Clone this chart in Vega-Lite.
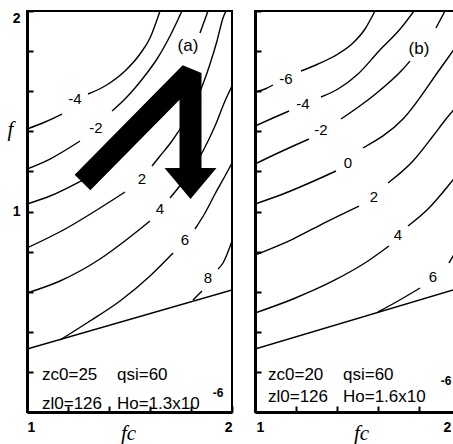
{
  "$schema": "https://vega.github.io/schema/vega-lite/v6.json",
  "background": "white",
  "padding": {"left": 6, "top": 9, "right": 0, "bottom": 0},
  "spacing": 19,
  "config": {
    "view": {"stroke": "black", "strokeWidth": 2},
    "axis": {
      "grid": false,
      "domainColor": "black",
      "domainWidth": 3,
      "tickColor": "black",
      "tickWidth": 2,
      "tickSize": -6,
      "labelFont": "Liberation Sans",
      "labelFontWeight": "bold",
      "labelFontSize": 14,
      "labelColor": "black",
      "titleFont": "Liberation Serif",
      "titleFontStyle": "italic",
      "titleFontWeight": "normal",
      "titleFontSize": 21,
      "titleColor": "black"
    }
  },
  "datasets": {
    "lines": [
      {"panel": "a", "seg": "m4-1", "x": 1, "y": 1.4115},
      {"panel": "a", "seg": "m4-1", "x": 1.0878, "y": 1.4464},
      {"panel": "a", "seg": "m4-1", "x": 1.1707, "y": 1.4863},
      {"panel": "a", "seg": "m4-2", "x": 1.2976, "y": 1.586},
      {"panel": "a", "seg": "m4-2", "x": 1.3805, "y": 1.6259},
      {"panel": "a", "seg": "m4-2", "x": 1.478, "y": 1.7007},
      {"panel": "a", "seg": "m4-2", "x": 1.5512, "y": 1.7855},
      {"panel": "a", "seg": "m4-2", "x": 1.6, "y": 1.8653},
      {"panel": "a", "seg": "m4-2", "x": 1.6488, "y": 2.0},
      {"panel": "a", "seg": "m2-1", "x": 1, "y": 1.212},
      {"panel": "a", "seg": "m2-1", "x": 1.1122, "y": 1.2618},
      {"panel": "a", "seg": "m2-1", "x": 1.2585, "y": 1.3516},
      {"panel": "a", "seg": "m2-2", "x": 1.4146, "y": 1.5012},
      {"panel": "a", "seg": "m2-2", "x": 1.478, "y": 1.5611},
      {"panel": "a", "seg": "m2-2", "x": 1.5268, "y": 1.616},
      {"panel": "a", "seg": "m2-2", "x": 1.5854, "y": 1.6908},
      {"panel": "a", "seg": "m2-2", "x": 1.6341, "y": 1.7606},
      {"panel": "a", "seg": "m2-2", "x": 1.6976, "y": 1.8753},
      {"panel": "a", "seg": "m2-2", "x": 1.7561, "y": 2.0},
      {"panel": "a", "seg": "0-1", "x": 1, "y": 1.0374},
      {"panel": "a", "seg": "0-1", "x": 1.1122, "y": 1.0773},
      {"panel": "a", "seg": "0-1", "x": 1.2439, "y": 1.1421},
      {"panel": "a", "seg": "0-1", "x": 1.4049, "y": 1.2369},
      {"panel": "a", "seg": "0-1", "x": 1.5512, "y": 1.3766},
      {"panel": "a", "seg": "0-1", "x": 1.6732, "y": 1.5262},
      {"panel": "a", "seg": "0-1", "x": 1.7707, "y": 1.6908},
      {"panel": "a", "seg": "0-2", "x": 1.8439, "y": 1.8903},
      {"panel": "a", "seg": "0-2", "x": 1.8829, "y": 2.0},
      {"panel": "a", "seg": "2-1", "x": 1, "y": 0.818},
      {"panel": "a", "seg": "2-1", "x": 1.1951, "y": 0.9177},
      {"panel": "a", "seg": "2-1", "x": 1.3561, "y": 1.0175},
      {"panel": "a", "seg": "2-1", "x": 1.478, "y": 1.0973},
      {"panel": "a", "seg": "2-2", "x": 1.6098, "y": 1.2269},
      {"panel": "a", "seg": "2-2", "x": 1.6488, "y": 1.2768},
      {"panel": "a", "seg": "2-2", "x": 1.7073, "y": 1.3516},
      {"panel": "a", "seg": "2-2", "x": 1.7707, "y": 1.4514},
      {"panel": "a", "seg": "2-2", "x": 1.8195, "y": 1.5411},
      {"panel": "a", "seg": "2-2", "x": 1.8585, "y": 1.6359},
      {"panel": "a", "seg": "2-2", "x": 1.8927, "y": 1.7357},
      {"panel": "a", "seg": "2-2", "x": 1.9268, "y": 1.8504},
      {"panel": "a", "seg": "2-2", "x": 1.9561, "y": 1.9651},
      {"panel": "a", "seg": "2-2", "x": 1.9707, "y": 2.0},
      {"panel": "a", "seg": "4-1", "x": 1, "y": 0.5935},
      {"panel": "a", "seg": "4-1", "x": 1.161, "y": 0.6534},
      {"panel": "a", "seg": "4-1", "x": 1.3561, "y": 0.7631},
      {"panel": "a", "seg": "4-1", "x": 1.5024, "y": 0.8728},
      {"panel": "a", "seg": "4-1", "x": 1.6, "y": 0.9526},
      {"panel": "a", "seg": "4-2", "x": 1.6976, "y": 1.0673},
      {"panel": "a", "seg": "4-2", "x": 1.7707, "y": 1.1621},
      {"panel": "a", "seg": "4-2", "x": 1.8585, "y": 1.3017},
      {"panel": "a", "seg": "4-2", "x": 1.9171, "y": 1.4264},
      {"panel": "a", "seg": "4-2", "x": 1.9659, "y": 1.5511},
      {"panel": "a", "seg": "4-2", "x": 2.0, "y": 1.6259},
      {"panel": "a", "seg": "6-1", "x": 1.161, "y": 0.3591},
      {"panel": "a", "seg": "6-1", "x": 1.3073, "y": 0.4539},
      {"panel": "a", "seg": "6-1", "x": 1.4537, "y": 0.5536},
      {"panel": "a", "seg": "6-1", "x": 1.6, "y": 0.6783},
      {"panel": "a", "seg": "6-1", "x": 1.7122, "y": 0.793},
      {"panel": "a", "seg": "6-2", "x": 1.8195, "y": 0.9127},
      {"panel": "a", "seg": "6-2", "x": 1.8683, "y": 0.9925},
      {"panel": "a", "seg": "6-2", "x": 1.9171, "y": 1.0873},
      {"panel": "a", "seg": "6-2", "x": 1.9659, "y": 1.1771},
      {"panel": "a", "seg": "6-2", "x": 2.0, "y": 1.2419},
      {"panel": "a", "seg": "8-1", "x": 1.8098, "y": 0.5586},
      {"panel": "a", "seg": "8-1", "x": 1.8537, "y": 0.6035},
      {"panel": "a", "seg": "8-2", "x": 1.9317, "y": 0.7132},
      {"panel": "a", "seg": "8-2", "x": 1.9561, "y": 0.7431},
      {"panel": "a", "seg": "8-2", "x": 2.0, "y": 0.8529},
      {"panel": "a", "seg": "bd", "x": 1, "y": 0.3142},
      {"panel": "a", "seg": "bd", "x": 2, "y": 0.6085},
      {"panel": "b", "seg": "m6-1", "x": 1, "y": 1.596},
      {"panel": "b", "seg": "m6-1", "x": 1.0488, "y": 1.611},
      {"panel": "b", "seg": "m6-1", "x": 1.0878, "y": 1.6309},
      {"panel": "b", "seg": "m6-2", "x": 1.2244, "y": 1.7007},
      {"panel": "b", "seg": "m6-2", "x": 1.3073, "y": 1.7357},
      {"panel": "b", "seg": "m6-2", "x": 1.4049, "y": 1.7855},
      {"panel": "b", "seg": "m6-2", "x": 1.478, "y": 1.8404},
      {"panel": "b", "seg": "m6-2", "x": 1.5366, "y": 1.9102},
      {"panel": "b", "seg": "m6-2", "x": 1.5854, "y": 2.0},
      {"panel": "b", "seg": "m4-1", "x": 1, "y": 1.4264},
      {"panel": "b", "seg": "m4-1", "x": 1.0878, "y": 1.4663},
      {"panel": "b", "seg": "m4-1", "x": 1.1659, "y": 1.5012},
      {"panel": "b", "seg": "m4-2", "x": 1.322, "y": 1.5711},
      {"panel": "b", "seg": "m4-2", "x": 1.4049, "y": 1.611},
      {"panel": "b", "seg": "m4-2", "x": 1.5024, "y": 1.6858},
      {"panel": "b", "seg": "m4-2", "x": 1.6049, "y": 1.8005},
      {"panel": "b", "seg": "m4-2", "x": 1.7122, "y": 1.9152},
      {"panel": "b", "seg": "m4-2", "x": 1.7756, "y": 2.0},
      {"panel": "b", "seg": "m2-1", "x": 1, "y": 1.2369},
      {"panel": "b", "seg": "m2-1", "x": 1.1122, "y": 1.2918},
      {"panel": "b", "seg": "m2-1", "x": 1.2634, "y": 1.3616},
      {"panel": "b", "seg": "m2-2", "x": 1.4195, "y": 1.4613},
      {"panel": "b", "seg": "m2-2", "x": 1.5756, "y": 1.5761},
      {"panel": "b", "seg": "m2-2", "x": 1.722, "y": 1.7107},
      {"panel": "b", "seg": "m2-2", "x": 1.7561, "y": 1.7506},
      {"panel": "b", "seg": "m2-3", "x": 1.8829, "y": 1.9152},
      {"panel": "b", "seg": "m2-3", "x": 1.9268, "y": 2.0},
      {"panel": "b", "seg": "0-1", "x": 1, "y": 1.0374},
      {"panel": "b", "seg": "0-1", "x": 1.1366, "y": 1.0873},
      {"panel": "b", "seg": "0-1", "x": 1.3951, "y": 1.202},
      {"panel": "b", "seg": "0-2", "x": 1.5268, "y": 1.3167},
      {"panel": "b", "seg": "0-2", "x": 1.722, "y": 1.4613},
      {"panel": "b", "seg": "0-2", "x": 1.9024, "y": 1.7107},
      {"panel": "b", "seg": "0-2", "x": 1.9756, "y": 1.8155},
      {"panel": "b", "seg": "0-2", "x": 2.0, "y": 1.8504},
      {"panel": "b", "seg": "2-1", "x": 1, "y": 0.783},
      {"panel": "b", "seg": "2-1", "x": 1.1854, "y": 0.8628},
      {"panel": "b", "seg": "2-1", "x": 1.3463, "y": 0.9476},
      {"panel": "b", "seg": "2-1", "x": 1.5073, "y": 1.0274},
      {"panel": "b", "seg": "2-2", "x": 1.6488, "y": 1.1421},
      {"panel": "b", "seg": "2-2", "x": 1.7707, "y": 1.2519},
      {"panel": "b", "seg": "2-2", "x": 1.8683, "y": 1.3766},
      {"panel": "b", "seg": "2-2", "x": 1.9317, "y": 1.4613},
      {"panel": "b", "seg": "2-2", "x": 1.9756, "y": 1.5162},
      {"panel": "b", "seg": "2-2", "x": 2.0, "y": 1.5511},
      {"panel": "b", "seg": "4-1", "x": 1, "y": 0.4938},
      {"panel": "b", "seg": "4-1", "x": 1.1854, "y": 0.5636},
      {"panel": "b", "seg": "4-1", "x": 1.3805, "y": 0.6534},
      {"panel": "b", "seg": "4-1", "x": 1.5512, "y": 0.7531},
      {"panel": "b", "seg": "4-1", "x": 1.6537, "y": 0.8279},
      {"panel": "b", "seg": "4-2", "x": 1.7463, "y": 0.9277},
      {"panel": "b", "seg": "4-2", "x": 1.8439, "y": 1.0125},
      {"panel": "b", "seg": "4-2", "x": 1.9415, "y": 1.1272},
      {"panel": "b", "seg": "4-2", "x": 2.0, "y": 1.202},
      {"panel": "b", "seg": "6-1", "x": 1.6, "y": 0.4988},
      {"panel": "b", "seg": "6-1", "x": 1.6976, "y": 0.5536},
      {"panel": "b", "seg": "6-1", "x": 1.8049, "y": 0.6185},
      {"panel": "b", "seg": "6-2", "x": 1.9463, "y": 0.7431},
      {"panel": "b", "seg": "6-2", "x": 1.9805, "y": 0.803},
      {"panel": "b", "seg": "6-2", "x": 2.0, "y": 0.8379},
      {"panel": "b", "seg": "bd", "x": 1, "y": 0.3142},
      {"panel": "b", "seg": "bd", "x": 2, "y": 0.6185}
    ],
    "labels": [
      {"panel": "a", "text": "-4", "x": 1.2341, "y": 1.5611},
      {"panel": "a", "text": "-2", "x": 1.3366, "y": 1.4165},
      {"panel": "a", "text": "2", "x": 1.561, "y": 1.1621},
      {"panel": "a", "text": "4", "x": 1.6488, "y": 1.0125},
      {"panel": "a", "text": "6", "x": 1.7707, "y": 0.8579},
      {"panel": "a", "text": "8", "x": 1.8829, "y": 0.6683},
      {"panel": "b", "text": "-6", "x": 1.1512, "y": 1.6608},
      {"panel": "b", "text": "-4", "x": 1.2341, "y": 1.5362},
      {"panel": "b", "text": "-2", "x": 1.322, "y": 1.4065},
      {"panel": "b", "text": "0", "x": 1.4537, "y": 1.2419},
      {"panel": "b", "text": "2", "x": 1.5805, "y": 1.0723},
      {"panel": "b", "text": "4", "x": 1.6976, "y": 0.8828},
      {"panel": "b", "text": "6", "x": 1.8683, "y": 0.6733}
    ],
    "tags": [
      {"panel": "a", "text": "(a)", "x": 1.7854, "y": 1.8254},
      {"panel": "b", "text": "(b)", "x": 1.8, "y": 1.8105}
    ],
    "params": [
      {"panel": "a", "text": "zc0=25", "x": 1.0732, "y": 0.1845},
      {"panel": "a", "text": "qsi=60", "x": 1.439, "y": 0.1845},
      {"panel": "a", "text": "zl0=126", "x": 1.0732, "y": 0.0399},
      {"panel": "a", "text": "Ho=1.3x10", "x": 1.439, "y": 0.0399},
      {"panel": "b", "text": "zc0=20", "x": 1.0634, "y": 0.1845},
      {"panel": "b", "text": "qsi=60", "x": 1.4293, "y": 0.1845},
      {"panel": "b", "text": "zl0=126", "x": 1.0634, "y": 0.0748},
      {"panel": "b", "text": "Ho=1.6x10", "x": 1.4293, "y": 0.0748}
    ],
    "sups": [
      {"panel": "a", "text": "-6", "x": 1.9318, "y": 0.0948},
      {"panel": "b", "text": "-6", "x": 1.9318, "y": 0.1546}
    ],
    "shaft": [
      {"k": 1, "x": 1.2707, "y": 1.1446},
      {"k": 2, "x": 1.7976, "y": 1.6908},
      {"k": 3, "x": 1.7976, "y": 1.217}
    ],
    "head": [
      {"x": 1.7976, "y": 1.1397}
    ]
  },
  "hconcat": [
    {
      "width": 205,
      "height": 401,
      "encoding": {
        "x": {"field": "x", "type": "quantitative", "scale": {"domain": [1, 2], "nice": false, "zero": false},
          "axis": {"values": [1, 1.2, 1.4, 1.6, 1.8, 2], "labelExpr": "datum.value == 1 ? '1' : datum.value == 2 ? '2' : ''", "labelFlush": true, "labelPadding": 14, "title": "fc", "titleX": 101, "titleY": 21, "titleBaseline": "middle", "titleAlign": "center"}},
        "y": {"field": "y", "type": "quantitative", "scale": {"domain": [0, 2], "nice": false, "zero": false},
          "axis": {"values": [0, 0.2, 0.4, 0.6, 0.8, 1, 1.2, 1.4, 1.6, 1.8, 2], "labelExpr": "datum.value == 1 ? '1' : datum.value == 2 ? '2' : ''", "labelFlush": true, "labelPadding": 13, "title": "f", "titleAngle": 0, "titleX": -17, "titleY": 118, "titleBaseline": "middle", "titleAlign": "center"}}
      },
      "layer": [
        {
          "data": {"name": "lines"},
          "transform": [{"filter": {"field": "panel", "equal": "a"}}],
          "mark": {"type": "line", "color": "black", "strokeWidth": 1.4, "interpolate": "monotone", "clip": true},
          "encoding": {"detail": {"field": "seg"}}
        },
        {
          "data": {"name": "shaft"},
          "mark": {"type": "line", "color": "black", "strokeWidth": 22, "strokeCap": "butt", "strokeJoin": "bevel"},
          "encoding": {"order": {"field": "k", "type": "quantitative"}}
        },
        {
          "data": {"name": "head"},
          "mark": {"type": "point", "shape": "M-1,-0.6L1,-0.6L0,0.6Z", "size": 2704, "filled": true, "color": "black", "opacity": 1, "strokeWidth": 0}
        },
        {
          "data": {"name": "labels"},
          "transform": [{"filter": {"field": "panel", "equal": "a"}}],
          "mark": {"type": "text", "font": "Liberation Sans", "fontSize": 15, "color": "black", "align": "center", "baseline": "middle"},
          "encoding": {"text": {"field": "text"}}
        },
        {
          "data": {"name": "tags"},
          "transform": [{"filter": {"field": "panel", "equal": "a"}}],
          "mark": {"type": "text", "font": "Liberation Sans", "fontSize": 17, "color": "black", "align": "center", "baseline": "middle"},
          "encoding": {"text": {"field": "text"}}
        },
        {
          "data": {"name": "params"},
          "transform": [{"filter": {"field": "panel", "equal": "a"}}],
          "mark": {"type": "text", "font": "Liberation Sans", "fontSize": 17, "color": "black", "align": "left", "baseline": "middle"},
          "encoding": {"text": {"field": "text"}}
        },
        {
          "data": {"name": "sups"},
          "transform": [{"filter": {"field": "panel", "equal": "a"}}],
          "mark": {"type": "text", "font": "Liberation Sans", "fontSize": 12, "fontWeight": "bold", "color": "black", "align": "center", "baseline": "middle"},
          "encoding": {"text": {"field": "text"}}
        }
      ]
    },
    {
      "width": 205,
      "height": 401,
      "encoding": {
        "x": {"field": "x", "type": "quantitative", "scale": {"domain": [1, 2], "nice": false, "zero": false},
          "axis": {"values": [1, 1.2, 1.4, 1.6, 1.8, 2], "labelExpr": "datum.value == 1 ? '1' : datum.value == 2 ? '2' : ''", "labelFlush": false, "labelAlign": "center", "labelOffset": {"condition": {"test": "datum.value == 2", "value": -13}, "value": 5}, "labelPadding": 14, "title": "fc", "titleX": 106, "titleY": 21, "titleBaseline": "middle", "titleAlign": "center"}},
        "y": {"field": "y", "type": "quantitative", "scale": {"domain": [0, 2], "nice": false, "zero": false},
          "axis": {"values": [0, 0.2, 0.4, 0.6, 0.8, 1, 1.2, 1.4, 1.6, 1.8, 2], "labels": false, "title": null}}
      },
      "layer": [
        {
          "data": {"name": "lines"},
          "transform": [{"filter": {"field": "panel", "equal": "b"}}],
          "mark": {"type": "line", "color": "black", "strokeWidth": 1.4, "interpolate": "monotone", "clip": true},
          "encoding": {"detail": {"field": "seg"}}
        },
        {
          "data": {"name": "labels"},
          "transform": [{"filter": {"field": "panel", "equal": "b"}}],
          "mark": {"type": "text", "font": "Liberation Sans", "fontSize": 15, "color": "black", "align": "center", "baseline": "middle"},
          "encoding": {"text": {"field": "text"}}
        },
        {
          "data": {"name": "tags"},
          "transform": [{"filter": {"field": "panel", "equal": "b"}}],
          "mark": {"type": "text", "font": "Liberation Sans", "fontSize": 17, "color": "black", "align": "center", "baseline": "middle"},
          "encoding": {"text": {"field": "text"}}
        },
        {
          "data": {"name": "params"},
          "transform": [{"filter": {"field": "panel", "equal": "b"}}],
          "mark": {"type": "text", "font": "Liberation Sans", "fontSize": 17, "color": "black", "align": "left", "baseline": "middle"},
          "encoding": {"text": {"field": "text"}}
        },
        {
          "data": {"name": "sups"},
          "transform": [{"filter": {"field": "panel", "equal": "b"}}],
          "mark": {"type": "text", "font": "Liberation Sans", "fontSize": 12, "fontWeight": "bold", "color": "black", "align": "center", "baseline": "middle"},
          "encoding": {"text": {"field": "text"}}
        }
      ]
    }
  ]
}
